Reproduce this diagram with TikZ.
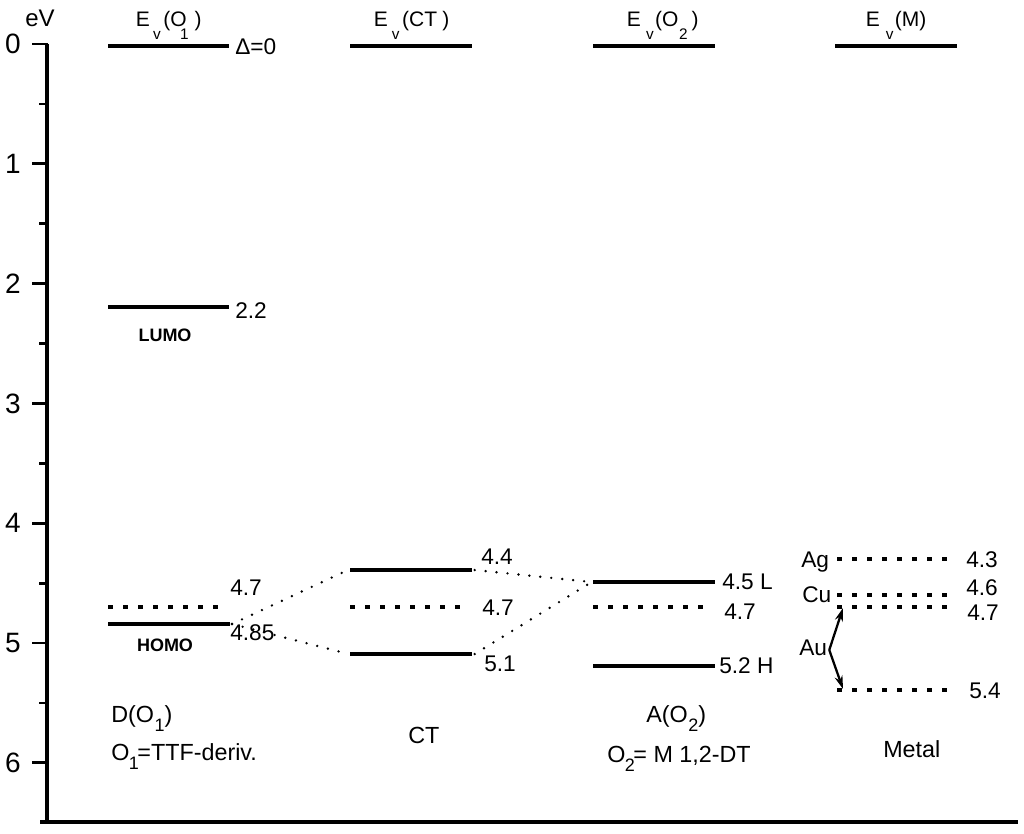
\documentclass[tikz,border=0pt]{standalone}
\usepackage{fontspec}
\setmainfont{Liberation Sans}
\usetikzlibrary{arrows.meta}
\newcommand\hsub[1]{\raisebox{-10pt}{\fontsize{11.5}{12}\selectfont #1}}
\newcommand\bsub[1]{\raisebox{-7pt}{\fontsize{13.5}{14}\selectfont #1}}
\begin{document}
\begin{tikzpicture}[x=0.75pt,y=-0.75pt,
  level/.style={line width=3pt},
  dlevel/.style={line width=3pt, dash pattern=on 3.75pt off 7.5pt},
  link/.style={line width=2pt, dash pattern=on 0pt off 8.25pt, line cap=round},
  axisline/.style={line width=2.6pt},
  tickline/.style={line width=2.2pt},
  arr/.style={line width=1.7pt, -{Stealth[length=10pt,width=6pt]}},
  lab/.style={font=\fontsize{17}{17}\selectfont, inner sep=0pt, anchor=base west},
  ticklab/.style={font=\fontsize{21}{21}\selectfont, inner sep=0pt},
  head/.style={font=\fontsize{15.75}{16}\selectfont, inner sep=0pt, anchor=base west},
  orb/.style={font=\bfseries\fontsize{13.5}{14}\selectfont, inner sep=0pt},
  bottom/.style={font=\fontsize{17.5}{18}\selectfont, inner sep=0pt, anchor=base west}
]
\useasboundingbox (0,0) rectangle (1024,833);

% axis
\coordinate (axtop) at (47,44);
\coordinate (axbot) at (47,822);
\coordinate (bl) at (40,822);
\coordinate (br) at (1018,822);
\draw[axisline] (axtop) -- (axbot);
\draw[axisline] (bl) -- (br);
\foreach \k in {0,...,6} {
  \draw[tickline] (32,{44+119.8*\k}) -- (48,{44+119.8*\k});
  \node[ticklab] (t\k) at (13,{44+119.8*\k}) {\k};
}
\foreach \k in {0,...,5} {
  \draw[tickline] (39,{104+119.8*\k}) -- (48,{104+119.8*\k});
}
\node[font=\fontsize{18}{18}\selectfont, inner sep=0pt] (ev) at (40,18) {eV};

% headers
\node[head] (h1) at (135.5,26) {E\kern2.5pt\hsub{v}\kern2pt(O\kern-5pt\hsub{1}\kern4.5pt)};
\node[head] (h2) at (373.5,26) {E\kern3pt\hsub{v}\kern2pt(CT\kern4pt)};
\node[head] (h3) at (626.5,26) {E\kern4pt\hsub{v}\kern1pt(O\kern0.5pt\hsub{2}\kern3pt)};
\node[head] (h4) at (865.5,26) {E\kern4.5pt\hsub{v}\kern1pt(M)};

% column 1: donor
\draw[level] (108,46) -- (229,46);
\node[lab] (d0) at (235,54) {Δ=0};
\draw[level] (108,307) coordinate (lumoL) -- (229,307) coordinate (lumoR);
\node[lab] (l22) at (235,318) {2.2};
\node[orb] (lumo) at (165,335) {LUMO};
\draw[dlevel] (108,607) -- (221,607);
\node[lab] (l47a) at (230,595) {4.7};
\draw[level] (108,624) coordinate (homoL) -- (230,624) coordinate (homoR);
\node[lab] (l485) at (230,640) {4.85};
\node[orb] (homo) at (165,645) {HOMO};

% column 2: CT
\draw[level] (350,46) -- (472,46);
\draw[level] (350,570) coordinate (ct44L) -- (472,570) coordinate (ct44R);
\node[lab] (l44) at (481,564) {4.4};
\draw[dlevel] (350,607) -- (465,607);
\node[lab] (l47b) at (482,615) {4.7};
\draw[level] (350,654) coordinate (ct51L) -- (472,654) coordinate (ct51R);
\node[lab] (l51) at (484,671) {5.1};

% column 3: acceptor
\draw[level] (593,46) -- (715,46);
\draw[level] (593,582) coordinate (a45L) -- (715,582) coordinate (a45R);
\node[lab] (l45) at (722,589) {4.5 L};
\draw[dlevel] (593,607) -- (708,607);
\node[lab] (l47c) at (724,619) {4.7};
\draw[level] (593,666) coordinate (a52L) -- (715,666) coordinate (a52R);
\node[lab] (l52) at (719,673) {5.2 H};

% column 4: metal
\draw[level] (835,46) -- (957,46);
\draw[dlevel] (837,559) -- (950,559);
\node[lab] (ag) at (801,567) {Ag};
\node[lab] (l43) at (966,567) {4.3};
\draw[dlevel] (837,595) -- (950,595);
\node[lab] (cu) at (802,602) {Cu};
\node[lab] (l46) at (966,595) {4.6};
\draw[dlevel] (837,607) coordinate (au47L) -- (950,607);
\node[lab] (l47d) at (967,620) {4.7};
\draw[dlevel] (837,690) coordinate (au54L) -- (950,690);
\node[lab] (l54) at (969,698) {5.4};
\node[lab] (au) at (799,655) {Au};
\coordinate (auTop) at (843,608);
\coordinate (auBot) at (843,689);
\draw[arr] ([xshift=1.5pt,yshift=-2pt]au.east) -- (auTop);
\draw[arr] ([xshift=1.5pt,yshift=-2pt]au.east) -- (auBot);

% dotted connectors
\draw[link] ([xshift=1.5pt]homoR) -- ([xshift=-1.5pt]ct44L);
\draw[link] ([xshift=1.5pt]homoR) -- ([xshift=-1pt]ct51L);
\draw[link] ([xshift=2pt]ct44R) -- ([xshift=-1pt]a45L);
\draw[link] ([xshift=2pt]ct51R) -- ([xshift=-1pt]a45L);

% bottom labels
\node[bottom] (dlab) at (111,722) {D(O\kern0.5pt\bsub{1})};
\node[bottom] (o1lab) at (111,760) {O\kern-0.5pt\bsub{1}\kern-1pt=TTF-deriv.};
\node[bottom] (ctlab) at (408,743) {CT};
\node[bottom] (alab) at (646,722) {A(O\kern0.5pt\bsub{2})};
\node[bottom] (o2lab) at (607,762) {O\kern-0.5pt\bsub{2}\kern-1pt= M 1,2-DT};
\node[bottom] (mlab) at (883,757) {Metal};
\end{tikzpicture}
\end{document}
